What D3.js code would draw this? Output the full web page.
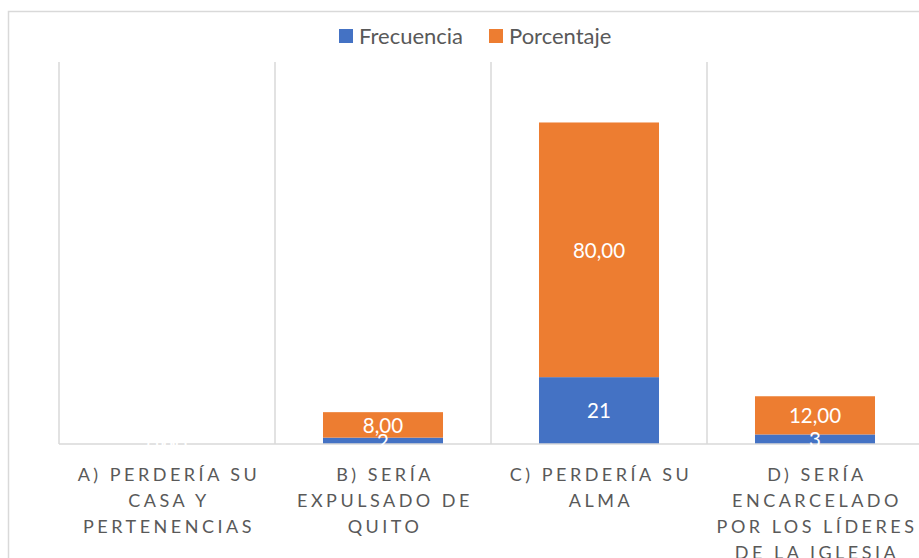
<!DOCTYPE html>
<html>
<head>
<meta charset="utf-8">
<script src="https://cdn.jsdelivr.net/npm/d3@7"></script>
<style>
  html, body { margin: 0; padding: 0; background: #fff; }
  svg { display: block; }
</style>
</head>
<body>
<svg id="chart" width="919" height="558"></svg>
<script>
const categories = [
  "A) PERDERÍA SU CASA Y PERTENENCIAS",
  "B) SERÍA EXPULSADO DE QUITO",
  "C) PERDERÍA SU ALMA",
  "D) SERÍA ENCARCELADO POR LOS LÍDERES DE LA IGLESIA"
];
const categoryLines = [
  ["A) PERDERÍA SU", "CASA Y", "PERTENENCIAS"],
  ["B) SERÍA", "EXPULSADO DE", "QUITO"],
  ["C) PERDERÍA SU", "ALMA"],
  ["D) SERÍA", "ENCARCELADO", "POR LOS LÍDERES", "DE LA IGLESIA"]
];
const frecuencia = [0, 2, 21, 3];
const frecuenciaLabels = ["0", "2", "21", "3"];
const porcentaje = [0, 8, 80, 12];
const porcentajeLabels = ["0,00", "8,00", "80,00", "12,00"];
const seriesNames = ["Frecuencia", "Porcentaje"];
const seriesColors = ["#4472C4", "#ED7D31"];
const yDomain = [0, 120];

const svg = d3.select("#chart");
const font = "Lato, 'Open Sans', sans-serif";
const textColor = "#595959";
const gridColor = "#d9d9d9";

// chart border
svg.append("rect")
  .attr("x", 8.5).attr("y", 11.5)
  .attr("width", 1000).attr("height", 1000)
  .attr("fill", "none").attr("stroke", gridColor).attr("stroke-width", 1.5);

const plot = { left: 59, right: 923, top: 62, bottom: 444 };

const x = d3.scaleBand().domain(categories).range([plot.left, plot.right]).padding(0);
const y = d3.scaleLinear().domain(yDomain).range([plot.bottom, plot.top]);
const bw = x.bandwidth();
const barW = bw * 0.5556;

// vertical gridlines at category boundaries
const bounds = categories.map(c => x(c)).concat([x(categories[categories.length - 1]) + bw]);
svg.append("g").selectAll("line").data(bounds).join("line")
  .attr("x1", d => d).attr("x2", d => d)
  .attr("y1", y(yDomain[1])).attr("y2", y(0))
  .attr("stroke", gridColor).attr("stroke-width", 1.5);

// stacked data
const rows = categories.map((c, i) => ({ cat: c, Frecuencia: frecuencia[i], Porcentaje: porcentaje[i], i }));
const stack = d3.stack().keys(seriesNames)(rows);

const labelSets = [frecuenciaLabels, porcentajeLabels];

stack.forEach((layer, si) => {
  const g = svg.append("g");
  g.selectAll("rect").data(layer).join("rect")
    .attr("x", d => x(d.data.cat) + (bw - barW) / 2)
    .attr("y", d => y(d[1]))
    .attr("width", barW)
    .attr("height", d => y(d[0]) - y(d[1]))
    .attr("fill", seriesColors[si]);
});

// baseline
svg.append("line")
  .attr("x1", plot.left).attr("x2", 919)
  .attr("y1", y(0)).attr("y2", y(0))
  .attr("stroke", gridColor).attr("stroke-width", 1.5);

// data labels
stack.forEach((layer, si) => {
  svg.append("g").selectAll("text").data(layer).join("text")
    .attr("x", d => x(d.data.cat) + bw / 2)
    .attr("y", d => (y(d[0]) + y(d[1])) / 2)
    .attr("dy", "0.38em")
    .attr("text-anchor", "middle")
    .attr("font-family", font)
    .attr("font-size", 20.5)
    .attr("fill", "#ffffff")
    .text(d => labelSets[si][d.data.i]);
});

// category labels
const catG = svg.append("g");
categories.forEach((c, i) => {
  const t = catG.append("text")
    .attr("x", x(c) + bw / 2)
    .attr("text-anchor", "middle")
    .attr("font-family", font)
    .attr("font-size", 18)
    .attr("letter-spacing", "3.5px")
    .attr("fill", textColor);
  categoryLines[i].forEach((line, li) => {
    t.append("tspan")
      .attr("x", x(c) + bw / 2 + 2)
      .attr("y", 480.5 + li * 26)
      .text(line);
  });
});

// legend
const legendItems = [
  { name: seriesNames[0], color: seriesColors[0], x: 339 },
  { name: seriesNames[1], color: seriesColors[1], x: 489 }
];
const lg = svg.append("g");
legendItems.forEach(it => {
  lg.append("rect").attr("x", it.x).attr("y", 29).attr("width", 14).attr("height", 14).attr("fill", it.color);
  lg.append("text").attr("x", it.x + 20).attr("y", 44)
    .attr("font-family", font).attr("font-size", 22).attr("fill", textColor)
    .text(it.name);
});
</script>
</body>
</html>
